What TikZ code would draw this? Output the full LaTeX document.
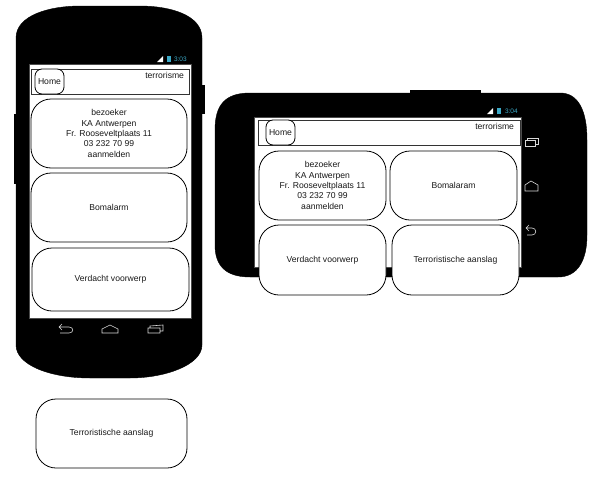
\documentclass[tikz,border=0pt]{standalone}
\usepackage{fontspec}
\setmainfont{Liberation Sans}
\usepackage{tikz}
\usetikzlibrary{positioning}
\definecolor{statusblue}{RGB}{60,170,200}
\tikzset{x=1pt, y=-1pt,
every node/.style={font=\fontsize{8.6}{10.4}\selectfont, text=black!90, inner sep=0pt, outer sep=0pt}, % text of all nodes
node distance=5pt, % gap between the cards
body/.style={fill=black, draw=black}, % the phone
screen/.style={draw=black!70, fill=white, line width=0.8pt, anchor=north west},
header/.style={draw=black!80, fill=white, line width=0.9pt, anchor=north west},
homebox/.style={draw=black, fill=white, line width=0.8pt, rounded corners=7pt, anchor=north west, minimum width=29pt, minimum height=25pt},
card/.style={draw=black, fill=white, line width=0.8pt, rounded corners=20pt, align=center, anchor=north west},
navicon/.style={draw=black!15, line width=0.6pt, fill=none},
clock/.style={font=\fontsize{6.5}{7}\selectfont, text=statusblue},
}
\begin{document}
\begin{tikzpicture}
\useasboundingbox (0,0) rectangle (600,498);

% portrait phone
\fill[body] (14,114) rectangle (18,183);
\fill[body] (200,85) rectangle (204,113);
\path[body] (16,38) .. controls (16,15) and (50,6) .. (80,6) -- (140,6)
  .. controls (170,6) and (202,15) .. (202,38) -- (202,345)
  .. controls (202,365) and (165,378) .. (130,378) -- (90,378)
  .. controls (50,378) and (16,365) .. (16,345) -- cycle;
\node[screen, minimum width=162pt, minimum height=254pt] (screenP) at (29,64) {};
\fill[white] (157,62) -- (163,62) -- (163,56) -- cycle;
\fill[statusblue] (167,56) rectangle (171,62);
\node[clock, anchor=west] (timeP) at (174,59) {3:03};
\node[header, minimum width=158pt, minimum height=25pt] (headerP) at (31,69) {};
\node[homebox] (homeP) at (35,69) {Home};
\node[anchor=north east] (titleP) at (184,72) {terrorisme};

\node[card, minimum width=156pt, minimum height=69pt] (bezoekerP) at (31,99) {bezoeker\\KA Antwerpen\\Fr. Rooseveltplaats 11\\03 232 70 99\\aanmelden};
\node[card, minimum width=156pt, minimum height=69pt, below=of bezoekerP.south west, anchor=north west] (bomP) {Bomalarm};
\node[card, minimum width=157pt, minimum height=63pt] (voorwerpP) at (32,248) {Verdacht voorwerp};
\node[card, minimum width=151pt, minimum height=69pt] (aanslagP) at (36,399) {Terroristische aanslag};

\draw[navicon] (59,327) -- (69,327) .. controls (74,327) and (74,333) .. (69,333) -- (60,333) (62,324) -- (59,327) -- (62,330);
\draw[navicon] (102,333) -- (102,329) -- (110,325) -- (118,329) -- (118,333) -- cycle;
\draw[navicon] (148,328) rectangle (160,333) (150,328) -- (150,326) -- (163,325) -- (163,331) -- (160,331);

% landscape phone
\fill[body] (410,90) rectangle (480,95);
\path[body] (215,130) .. controls (215,105) and (225,93) .. (250,93) -- (560,93)
  .. controls (578,93) and (587,110) .. (587,140) -- (587,235)
  .. controls (587,260) and (578,277) .. (558,277) -- (250,277)
  .. controls (225,277) and (215,265) .. (215,245) -- cycle;
\node[screen, minimum width=267pt, minimum height=150pt] (screenL) at (254,117) {};
\fill[white] (487,114) -- (493,114) -- (493,108) -- cycle;
\fill[statusblue] (497,108) rectangle (501,114);
\node[clock, anchor=west] (timeL) at (505,111) {3:04};
\node[header, minimum width=262pt, minimum height=25pt] (headerL) at (258,120) {};
\node[homebox] (homeL) at (266,120) {Home};
\node[anchor=north east] (titleL) at (514,123) {terrorisme};

\node[card, minimum width=127pt, minimum height=69pt] (bezoekerL) at (259,151) {bezoeker\\KA Antwerpen\\Fr. Rooseveltplaats 11\\03 232 70 99\\aanmelden};
\node[card, minimum width=127pt, minimum height=69pt] (bomL) at (390,151) {Bomalaram};
\node[card, minimum width=127pt, minimum height=70pt] (voorwerpL) at (259,225) {Verdacht voorwerp};
\node[card, minimum width=127pt, minimum height=70pt] (aanslagL) at (392,225) {Terroristische aanslag};

\draw[navicon] (525,140) rectangle (535,146) (527,140) -- (527,138) -- (538,138) -- (538,144) -- (535,144);
\draw[navicon] (525,191) -- (525,185) -- (531,181) -- (538,185) -- (538,191) -- cycle;
\draw[navicon] (526,228) -- (532,228) .. controls (537,228) and (537,235) .. (532,235) -- (527,235) (529,225) -- (526,228) -- (529,231);

\end{tikzpicture}
\end{document}
